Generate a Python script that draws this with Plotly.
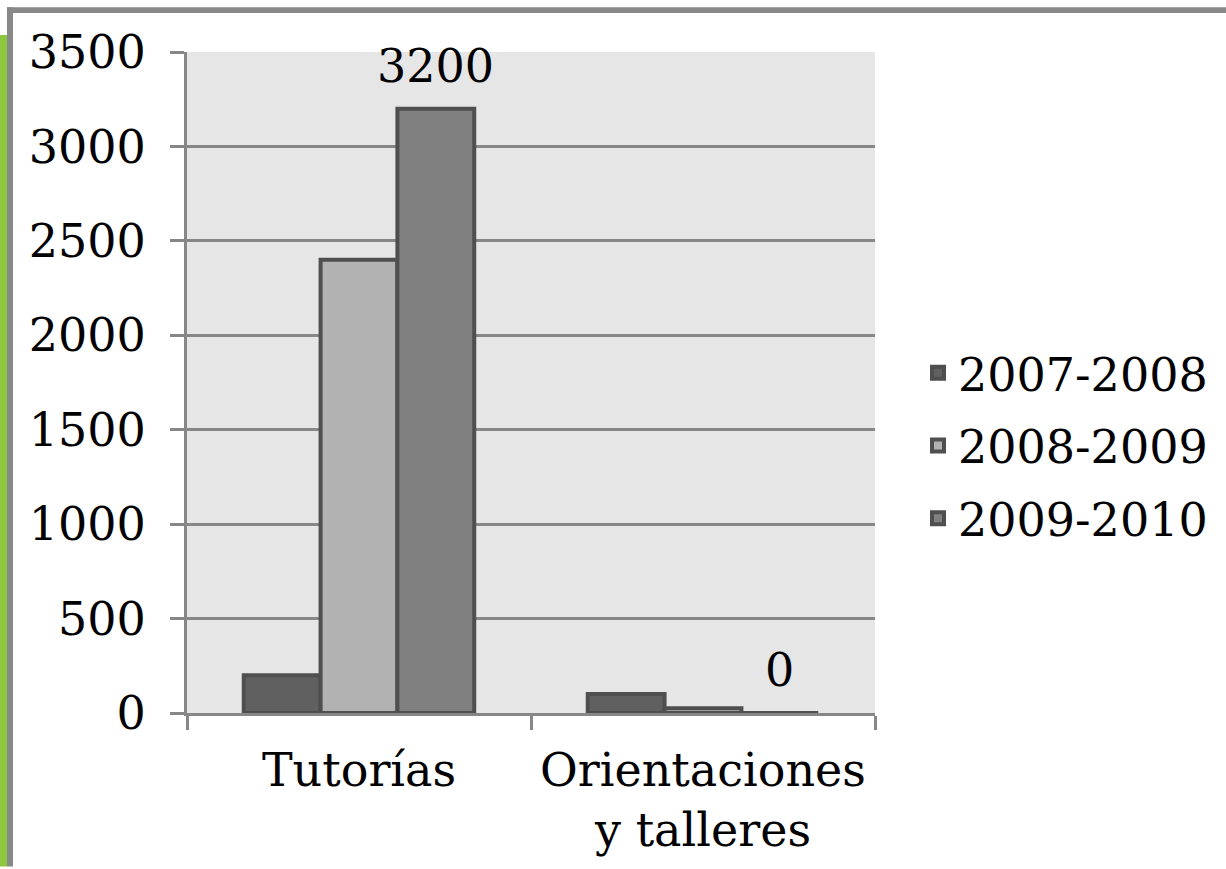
import plotly.graph_objects as go

categories = ["Tutorías", "Orientaciones<br>y talleres"]
series_names = ["2007-2008", "2008-2009", "2009-2010"]
values_2007_2008 = [200, 100]
values_2008_2009 = [2400, 25]
values_2009_2010 = [3200, 0]
y_tick_values = [0, 500, 1000, 1500, 2000, 2500, 3000, 3500]

series_values = [values_2007_2008, values_2008_2009, values_2009_2010]
fill_colors = ["#606060", "#b2b2b2", "#808080"]
outline = "#4f4f4f"
grid = "#878787"
FONT = "DejaVu Serif"

W, H = 1226, 869
L, R, T, B = 187, 351, 52, 154
PW, PH = W - L - R, H - T - B


def px_x(x):
    return (x - L) / PW


def px_y(y):
    return (H - B - y) / PH


fig = go.Figure()
for name, vals, col in zip(series_names, series_values, fill_colors):
    fig.add_trace(go.Bar(
        name=name, x=categories, y=vals,
        marker=dict(color=col, line=dict(color=outline, width=4)),
        legendgroup=name,
    ))

# data labels for the last series
bargap = 0.33
cat_px = PW / len(categories)
bar_px = cat_px * (1 - bargap) / len(series_names)
annotations = []
for cat, v in zip(categories, values_2009_2010):
    annotations.append(dict(
        x=cat, y=v, xref="x", yref="y", text=str(v), showarrow=False,
        xshift=bar_px, yshift=14, yanchor="bottom",
        font=dict(family=FONT, size=46, color="black"),
    ))

shapes = [
    # green band on left
    dict(type="rect", xref="paper", yref="paper",
         x0=px_x(0), x1=px_x(7), y0=px_y(H), y1=px_y(35),
         fillcolor="#8dc63f", line=dict(width=0), layer="below"),
    # gray frame top
    dict(type="rect", xref="paper", yref="paper",
         x0=px_x(7), x1=px_x(W), y0=px_y(13), y1=px_y(7),
         fillcolor="#898989", line=dict(width=0), layer="below"),
    # gray frame left
    dict(type="rect", xref="paper", yref="paper",
         x0=px_x(7), x1=px_x(13), y0=px_y(H), y1=px_y(7),
         fillcolor="#898989", line=dict(width=0), layer="below"),
]

fig.update_layout(
    width=W, height=H,
    margin=dict(l=L, r=R, t=T, b=B, pad=0),
    paper_bgcolor="white",
    plot_bgcolor="#e6e6e6",
    barmode="group",
    bargap=bargap,
    bargroupgap=0,
    font=dict(family=FONT, size=46, color="black"),
    showlegend=True,
    legend=dict(
        x=px_x(918), xanchor="left", y=px_y(447), yanchor="middle",
        font=dict(family=FONT, size=46, color="black"),
        tracegroupgap=10, bgcolor="rgba(0,0,0,0)",
        traceorder="grouped",
    ),
    shapes=shapes,
    annotations=annotations,
)

fig.update_xaxes(
    showline=True, linecolor=grid, linewidth=3,
    ticks="outside", tickson="boundaries", ticklen=14, tickwidth=3, tickcolor=grid,
    showgrid=False, ticklabelstandoff=15,
    tickfont=dict(family=FONT, size=46, color="black"),
)
fig.update_yaxes(
    range=[0, 3500], tickvals=y_tick_values,
    showline=True, linecolor=grid, linewidth=3,
    ticks="outside", ticklen=14, tickwidth=3, tickcolor=grid,
    showgrid=True, gridcolor=grid, gridwidth=3,
    zeroline=False, ticklabelstandoff=15,
    tickfont=dict(family=FONT, size=46, color="black"),
)

fig.write_html(
    "out.html",
    config={"displayModeBar": False},
    post_script="document.body.style.margin='0';document.body.style.padding='0';",
)
